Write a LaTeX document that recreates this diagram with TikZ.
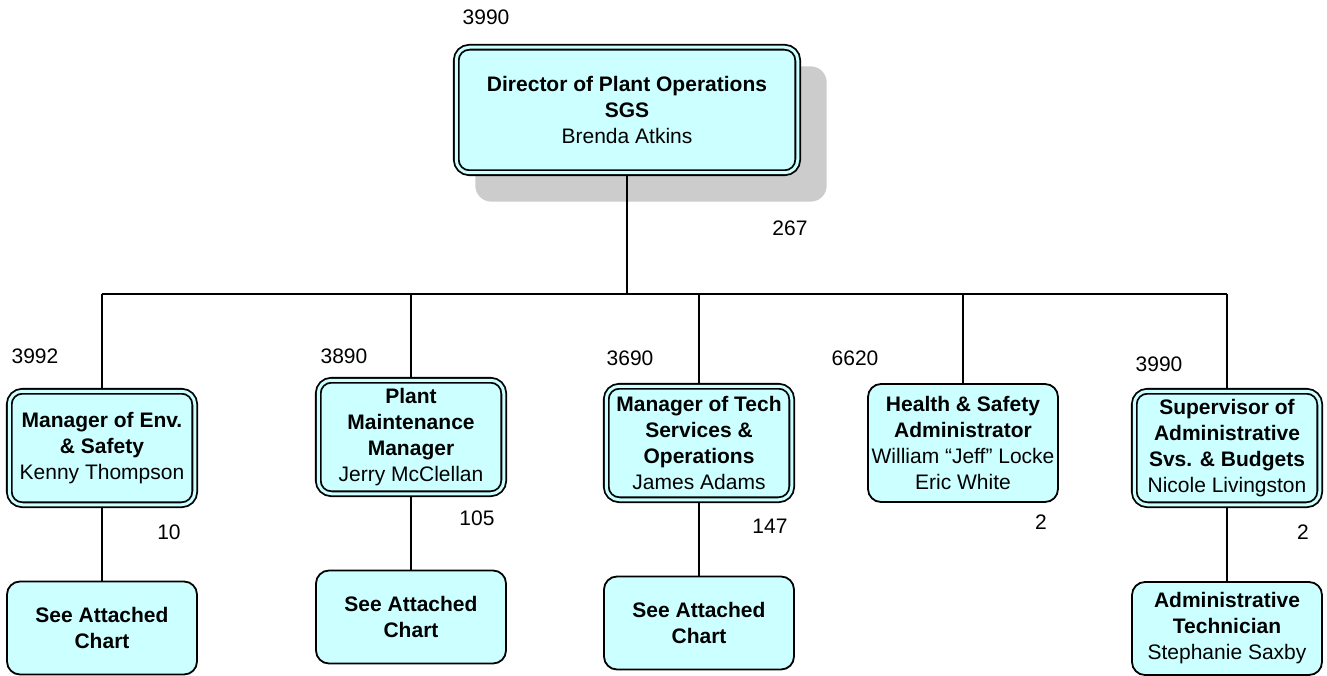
\documentclass[tikz,border=0pt]{standalone}
\usepackage{fontspec}
\setmainfont{Liberation Sans}
\usepackage{tikz}
\usetikzlibrary{backgrounds}
\definecolor{boxcyan}{HTML}{CCFFFF}
\definecolor{shadowgray}{HTML}{CCCCCC}

\begin{document}
\begin{tikzpicture}[x=1pt,y=-1pt,
        every node/.style={font=\fontsize{21}{26}\selectfont},
        card/.style={draw,line width=1.8pt,fill=boxcyan,rounded corners=13pt,align=center,inner sep=1pt,minimum width=190pt,minimum height=118pt},
        dcard/.style={card,double=boxcyan,double distance=3pt,minimum width=185.5pt,minimum height=113.5pt},
        wire/.style={line width=1.6pt},
        num/.style={inner sep=0pt}]
        \useasboundingbox (0,0) rectangle (1327,676);
        \coordinate (bus) at (0,294);
        \node[dcard,minimum width=341.5pt,minimum height=125.5pt] (top) at (627,110) {\textbf{Director of Plant Operations}\\\textbf{SGS}\\Brenda Atkins};
        \node[dcard] (env) at (102,448) {\textbf{Manager of Env.}\\\textbf{\& Safety}\\Kenny Thompson};
        \node[dcard] (maint) at (411,437) {\textbf{Plant}\\\textbf{Maintenance}\\\textbf{Manager}\\Jerry McClellan};
        \node[dcard] (tech) at (699,443) {\textbf{Manager of Tech}\\\textbf{Services \&}\\\textbf{Operations}\\James Adams};
        \node[card] (hs) at (963,443) {\textbf{Health \& Safety}\\\textbf{Administrator}\\William “Jeff” Locke\\Eric White};
        \node[dcard] (sup) at (1227,448) {\textbf{Supervisor of}\\\textbf{Administrative}\\\textbf{Svs. \& Budgets}\\Nicole Livingston};
        \node[card,minimum height=93pt] (envc) at (102,628) {\textbf{See Attached}\\\textbf{Chart}};
        \node[card,minimum height=93pt] (maintc) at (411,617) {\textbf{See Attached}\\\textbf{Chart}};
        \node[card,minimum height=93pt] (techc) at (699,623) {\textbf{See Attached}\\\textbf{Chart}};
        \node[card,minimum height=93pt] (admt) at (1227,628.5) {\textbf{Administrative}\\\textbf{Technician}\\Stephanie Saxby};
        \foreach \x/\y/\t [count=\i] in {486/17/3990,790/228/267,35/356/3992,344/356/3890,630/358/3690,855/358/6620,1159/364/3990,169/532/10,477/518/105,770/526/147,1041/522/2,1303/532/2}
            \node[num] (cnt\i) at (\x,\y) {\t};
        \begin{scope}[on background layer]
            \fill[shadowgray,rounded corners=16pt] ([shift={(20,20)}]top.north west) rectangle ([shift={(28,28)}]top.south east);
            \draw[wire] (top.south) -- (top.south |- bus);
            \draw[wire] (env.north |- bus) -- (sup.north |- bus);
            \foreach \n in {env,maint,tech,hs,sup}
                \draw[wire] (\n.north) -- (\n.north |- bus);
            \foreach \a/\b in {env/envc,maint/maintc,tech/techc,sup/admt}
                \draw[wire] (\a.south) -- (\b.north);
        \end{scope}
      \end{tikzpicture}
\end{document}
